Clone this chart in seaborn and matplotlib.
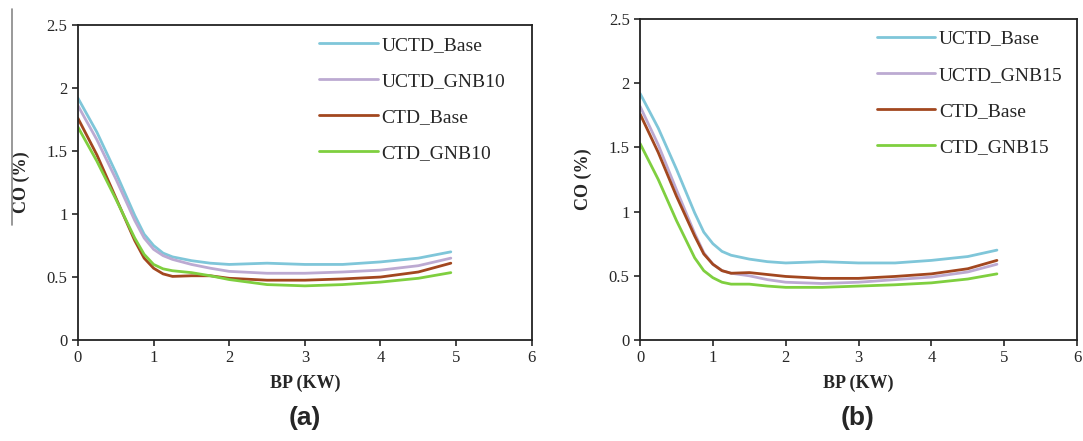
import matplotlib
matplotlib.use("Agg")
import matplotlib.pyplot as plt
from matplotlib.lines import Line2D
import pandas as pd
import seaborn as sns

# brake power (KW)
bp = [0, 0.25, 0.5, 0.75, 0.875, 1, 1.125, 1.25, 1.5, 1.75, 2, 2.5, 3, 3.5, 4, 4.5, 4.93]

# panel (a) - CO (%)
uctd_base_a = [1.92, 1.65, 1.33, 0.99, 0.84, 0.75, 0.69, 0.66, 0.63, 0.61, 0.60, 0.61, 0.60, 0.60, 0.62, 0.65, 0.70]
uctd_gnb10 = [1.86, 1.59, 1.28, 0.95, 0.81, 0.72, 0.67, 0.64, 0.60, 0.57, 0.545, 0.53, 0.53, 0.54, 0.555, 0.59, 0.65]
ctd_base_a = [1.76, 1.47, 1.13, 0.79, 0.65, 0.57, 0.525, 0.505, 0.51, 0.51, 0.49, 0.475, 0.475, 0.485, 0.50, 0.54, 0.61]
ctd_gnb10 = [1.69, 1.42, 1.12, 0.81, 0.68, 0.60, 0.565, 0.55, 0.535, 0.51, 0.48, 0.44, 0.43, 0.44, 0.46, 0.49, 0.535]

# panel (b) - CO (%)
bp_b = [0, 0.25, 0.5, 0.75, 0.875, 1, 1.125, 1.25, 1.5, 1.75, 2, 2.5, 3, 3.5, 4, 4.5, 4.9]
uctd_base_b = [1.92, 1.65, 1.33, 0.99, 0.84, 0.75, 0.69, 0.66, 0.63, 0.61, 0.60, 0.61, 0.60, 0.60, 0.62, 0.65, 0.70]
uctd_gnb15 = [1.82, 1.52, 1.17, 0.83, 0.68, 0.59, 0.54, 0.52, 0.50, 0.47, 0.45, 0.44, 0.45, 0.47, 0.49, 0.53, 0.59]
ctd_base_b = [1.76, 1.46, 1.12, 0.81, 0.67, 0.59, 0.54, 0.52, 0.525, 0.51, 0.495, 0.48, 0.48, 0.495, 0.515, 0.555, 0.62]
ctd_gnb15 = [1.53, 1.25, 0.93, 0.64, 0.54, 0.485, 0.45, 0.435, 0.435, 0.42, 0.41, 0.41, 0.42, 0.43, 0.445, 0.475, 0.515]

colors = ['#7fc6d9', '#bcaad2', '#a2471f', '#7fcf3f']


def make_df(x, series):
    rows = []
    for name, vals in series.items():
        for xi, yi in zip(x, vals):
            rows.append({'BP': xi, 'CO': yi, 'series': name})
    return pd.DataFrame(rows)


def draw_panel(ax, df, names, leg_x):
    pal = dict(zip(names, colors))
    sns.lineplot(data=df, x='BP', y='CO', hue='series', hue_order=names,
                 palette=pal, linewidth=2, ax=ax, legend=False)
    ax.set_xlim(0, 6)
    ax.set_ylim(0, 2.5)
    ax.set_xticks(range(0, 7))
    ax.set_yticks([0, 0.5, 1, 1.5, 2, 2.5])
    ax.set_yticklabels(['0', '0.5', '1', '1.5', '2', '2.5'])
    ax.tick_params(direction='out', length=4, width=1.2, labelsize=12,
                   left=True, bottom=True)
    for lab in ax.get_xticklabels() + ax.get_yticklabels():
        lab.set_fontfamily('Liberation Serif')
    for s in ax.spines.values():
        s.set_color('#222222')
        s.set_linewidth(1.3)
    ax.set_xlabel('BP (KW)', fontsize=13, fontweight='bold', family='Liberation Serif', labelpad=6)
    ax.set_ylabel('CO (%)', fontsize=13, fontweight='bold', family='Liberation Serif', labelpad=12)
    handles = [Line2D([0], [0], color=c, lw=2) for c in colors]
    ax.legend(handles, names, loc='upper left', bbox_to_anchor=(leg_x, 0.99),
              frameon=False, handlelength=3.0, labelspacing=0.95,
              borderaxespad=0.0, handletextpad=0.2,
              prop={'family': 'Liberation Serif', 'size': 14})


sns.set_style('white')
plt.rcParams['font.family'] = ['Liberation Serif', 'DejaVu Sans']

fig = plt.figure(figsize=(10.83, 4.41), dpi=100)
ax_a = fig.add_axes([0.072, 0.229, 0.419, 0.714])
ax_b = fig.add_axes([0.591, 0.229, 0.4035, 0.728])

names_a = ['UCTD_Base', 'UCTD_GNB10', 'CTD_Base', 'CTD_GNB10']
names_b = ['UCTD_Base', 'UCTD_GNB15', 'CTD_Base', 'CTD_GNB15']
df_a = make_df(bp, dict(zip(names_a, [uctd_base_a, uctd_gnb10, ctd_base_a, ctd_gnb10])))
df_b = make_df(bp_b, dict(zip(names_b, [uctd_base_b, uctd_gnb15, ctd_base_b, ctd_gnb15])))

draw_panel(ax_a, df_a, names_a, 0.515)
draw_panel(ax_b, df_b, names_b, 0.524)

fig.text(0.281, 0.052, '(a)', ha='center', va='center', fontsize=19,
         fontweight='bold', family='Liberation Sans')
fig.text(0.792, 0.052, '(b)', ha='center', va='center', fontsize=19,
         fontweight='bold', family='Liberation Sans')

# stray grey rule at the left edge of the scanned figure
fig.add_artist(Line2D([0.011, 0.011], [0.49, 0.98], color='#888888', lw=1.2))

fig.savefig('out.png', dpi=100)
